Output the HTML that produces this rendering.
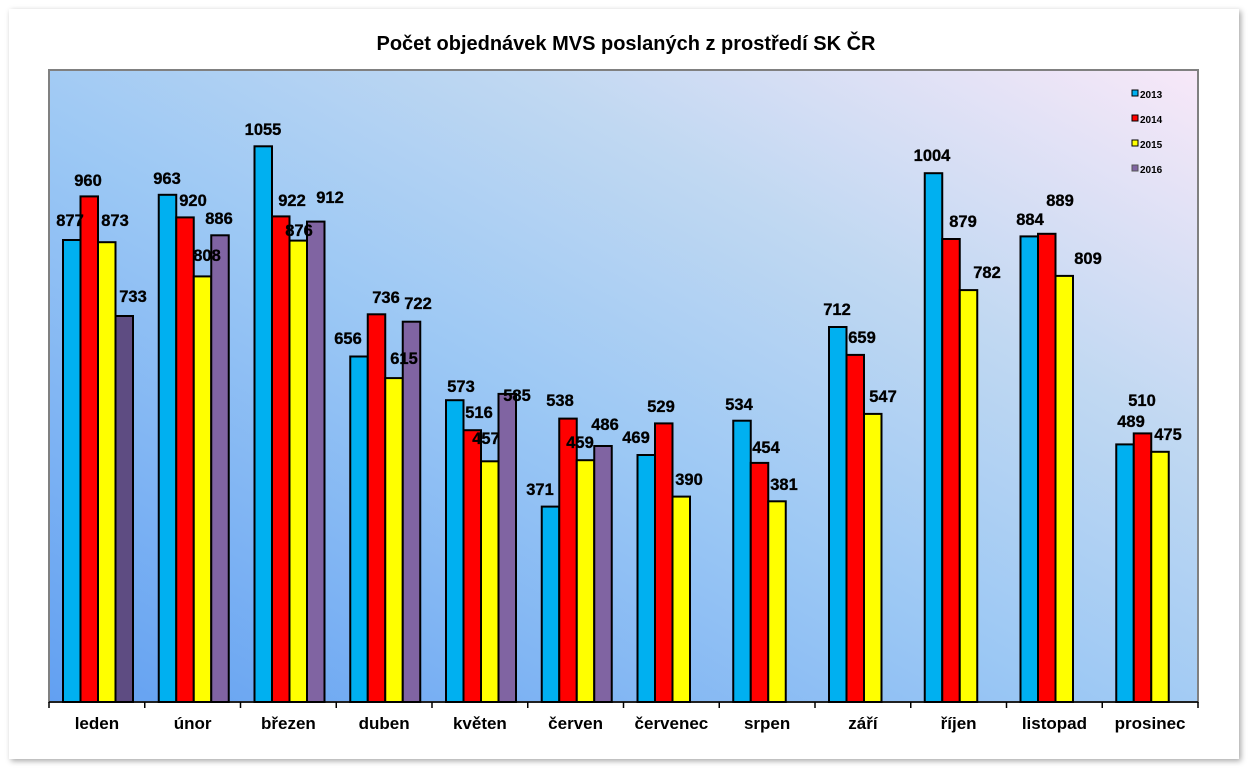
<!DOCTYPE html>
<html><head><meta charset="utf-8"><style>
body{margin:0;background:#fff;width:1248px;height:768px;overflow:hidden}
svg{display:block;font-family:"Liberation Sans",Arial,sans-serif}
</style></head><body>
<svg width="1248" height="768" viewBox="0 0 1248 768">
<defs>
<linearGradient id="bg" x1="0" y1="1" x2="1" y2="0">
<stop offset="0" stop-color="#62a0f2"/>
<stop offset="0.45" stop-color="#9cc8f4"/>
<stop offset="0.7" stop-color="#c0d8f2"/>
<stop offset="1" stop-color="#f8e8f8"/>
</linearGradient>
<filter id="sh" x="-5%" y="-5%" width="110%" height="110%"><feDropShadow dx="2" dy="2" stdDeviation="3" flood-color="#000" flood-opacity="0.35"/></filter>
</defs>
<rect x="9" y="9" width="1230" height="750" fill="#fff" filter="url(#sh)"/>
<text x="626" y="50" text-anchor="middle" font-size="20" font-weight="bold" fill="#000">Počet objednávek MVS poslaných z prostředí SK ČR</text>
<rect x="49" y="70" width="1149" height="632" fill="url(#bg)" stroke="#808080" stroke-width="2"/>
<g stroke="#000" stroke-width="2">
<g fill="#00b0f0">
<rect x="63" y="240" width="17.5" height="462"/><rect x="158.75" y="194.8" width="17.5" height="507.2"/><rect x="254.5" y="146.3" width="17.5" height="555.7"/><rect x="350.25" y="356.5" width="17.5" height="345.5"/><rect x="446" y="400.2" width="17.5" height="301.8"/><rect x="541.75" y="506.6" width="17.5" height="195.4"/><rect x="637.5" y="455" width="17.5" height="247"/><rect x="733.25" y="420.7" width="17.5" height="281.3"/><rect x="829" y="327" width="17.5" height="375"/><rect x="924.75" y="173.2" width="17.5" height="528.8"/><rect x="1020.5" y="236.4" width="17.5" height="465.6"/><rect x="1116.25" y="444.4" width="17.5" height="257.6"/>
</g>
<g fill="#ff0000">
<rect x="80.5" y="196.4" width="17.5" height="505.6"/><rect x="176.25" y="217.4" width="17.5" height="484.6"/><rect x="272" y="216.4" width="17.5" height="485.6"/><rect x="367.75" y="314.3" width="17.5" height="387.7"/><rect x="463.5" y="430.2" width="17.5" height="271.8"/><rect x="559.25" y="418.6" width="17.5" height="283.4"/><rect x="655" y="423.4" width="17.5" height="278.6"/><rect x="750.75" y="462.9" width="17.5" height="239.1"/><rect x="846.5" y="354.9" width="17.5" height="347.1"/><rect x="942.25" y="239" width="17.5" height="463"/><rect x="1038" y="233.8" width="17.5" height="468.2"/><rect x="1133.75" y="433.4" width="17.5" height="268.6"/>
</g>
<g fill="#ffff00">
<rect x="98" y="242.2" width="17.5" height="459.8"/><rect x="193.75" y="276.4" width="17.5" height="425.6"/><rect x="289.5" y="240.6" width="17.5" height="461.4"/><rect x="385.25" y="378.1" width="17.5" height="323.9"/><rect x="481" y="461.3" width="17.5" height="240.7"/><rect x="576.75" y="460.2" width="17.5" height="241.8"/><rect x="672.5" y="496.6" width="17.5" height="205.4"/><rect x="768.25" y="501.3" width="17.5" height="200.7"/><rect x="864" y="413.9" width="17.5" height="288.1"/><rect x="959.75" y="290.1" width="17.5" height="411.9"/><rect x="1055.5" y="275.9" width="17.5" height="426.1"/><rect x="1151.25" y="451.8" width="17.5" height="250.2"/>
</g>
<g fill="#8064a2">
<rect x="115.5" y="316" width="17.5" height="386" fill="#5e4c82"/><rect x="211.25" y="235.3" width="17.5" height="466.7"/><rect x="307" y="221.6" width="17.5" height="480.4"/><rect x="402.75" y="321.7" width="17.5" height="380.3"/><rect x="498.5" y="393.9" width="17.5" height="308.1"/><rect x="594.25" y="446" width="17.5" height="256"/>
</g>
</g>
<g stroke="#000" stroke-width="1.5">
<line x1="49" y1="702" x2="1198" y2="702"/>
<line x1="49" y1="702" x2="49" y2="708"/><line x1="144.75" y1="702" x2="144.75" y2="708"/><line x1="240.5" y1="702" x2="240.5" y2="708"/><line x1="336.25" y1="702" x2="336.25" y2="708"/><line x1="432" y1="702" x2="432" y2="708"/><line x1="527.75" y1="702" x2="527.75" y2="708"/><line x1="623.5" y1="702" x2="623.5" y2="708"/><line x1="719.25" y1="702" x2="719.25" y2="708"/><line x1="815" y1="702" x2="815" y2="708"/><line x1="910.75" y1="702" x2="910.75" y2="708"/><line x1="1006.5" y1="702" x2="1006.5" y2="708"/><line x1="1102.25" y1="702" x2="1102.25" y2="708"/><line x1="1198" y1="702" x2="1198" y2="708"/>
</g>
<g font-size="17" font-weight="bold" text-anchor="middle" fill="#000">
<text x="96.9" y="729">leden</text><text x="192.6" y="729">únor</text><text x="288.4" y="729">březen</text><text x="384.1" y="729">duben</text><text x="479.9" y="729">květen</text><text x="575.6" y="729">červen</text><text x="671.4" y="729">červenec</text><text x="767.1" y="729">srpen</text><text x="862.9" y="729">září</text><text x="958.6" y="729">říjen</text><text x="1054.4" y="729">listopad</text><text x="1150.1" y="729">prosinec</text>
</g>
<g font-size="16.5" font-weight="bold" text-anchor="middle" fill="#000" stroke="#000" stroke-width="0.3">
<text x="70" y="226">877</text><text x="88" y="186">960</text><text x="115" y="226">873</text><text x="133" y="302">733</text>
<text x="167" y="184">963</text><text x="193" y="206">920</text><text x="207" y="261">808</text><text x="219" y="224">886</text>
<text x="263" y="135">1055</text><text x="292" y="206">922</text><text x="299" y="236">876</text><text x="330" y="203">912</text>
<text x="348" y="344">656</text><text x="386" y="303">736</text><text x="404" y="364">615</text><text x="418" y="309">722</text>
<text x="461" y="392">573</text><text x="479" y="418">516</text><text x="486" y="444">457</text><text x="517" y="401">585</text>
<text x="540" y="495">371</text><text x="560" y="406">538</text><text x="580" y="448">459</text><text x="605" y="430">486</text>
<text x="636" y="443">469</text><text x="661" y="412">529</text><text x="689" y="485">390</text>
<text x="739" y="410">534</text><text x="766" y="453">454</text><text x="784" y="490">381</text>
<text x="837" y="315">712</text><text x="862" y="343">659</text><text x="883" y="402">547</text>
<text x="932" y="161">1004</text><text x="963" y="227">879</text><text x="987" y="278">782</text>
<text x="1030" y="225">884</text><text x="1060" y="206">889</text><text x="1088" y="264">809</text>
<text x="1131" y="427">489</text><text x="1142" y="406">510</text><text x="1168" y="440">475</text>
</g>
<g font-size="10" font-weight="bold" fill="#000" stroke-width="1" stroke="#000">
<rect x="1132" y="90" width="6" height="6" fill="#00b0f0"/><text x="1140" y="98" stroke="none">2013</text>
<rect x="1132" y="115" width="6" height="6" fill="#ff0000"/><text x="1140" y="123" stroke="none">2014</text>
<rect x="1132" y="140" width="6" height="6" fill="#ffff00"/><text x="1140" y="148" stroke="none">2015</text>
<rect x="1132" y="165" width="6" height="6" fill="#8064a2" stroke="#555"/><text x="1140" y="173" stroke="none">2016</text>
</g>
</svg>
</body></html>
